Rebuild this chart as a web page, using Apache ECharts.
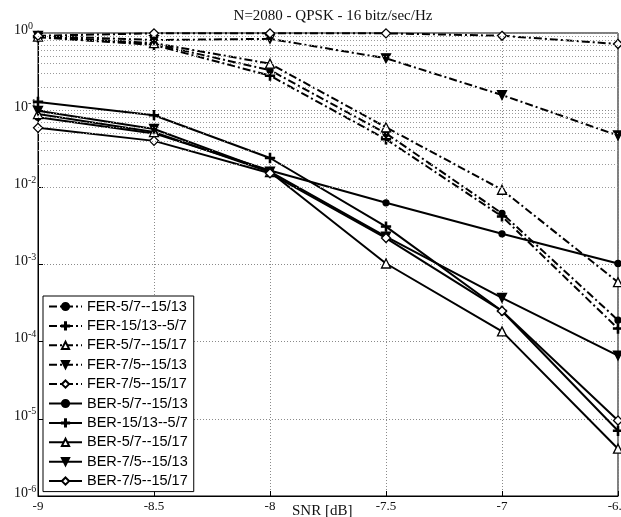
<!DOCTYPE html>
<html><head><meta charset="utf-8">
<script src="https://cdn.jsdelivr.net/npm/echarts@6/dist/echarts.min.js"></script>
<style>html,body{margin:0;padding:0;background:#fff}#c{width:621px;height:517px}</style>
</head><body><div id="c"></div>
<script>
var snr = [-9, -8.5, -8, -7.5, -7, -6.5];
var xTicks = [-9, -8.5, -8, -7.5, -7, -6.5];
var yTickExp = [0, -1, -2, -3, -4, -5, -6];

var ferC  = [0.90, 0.72, 0.33, 0.050, 0.0046, 0.00019];
var ferP  = [0.88, 0.70, 0.28, 0.042, 0.0042, 0.000148];
var ferTU = [0.90, 0.74, 0.40, 0.060, 0.0093, 0.00059];
var ferTD = [0.92, 0.81, 0.84, 0.47, 0.157, 0.047];
var ferD  = [0.92, 0.99, 0.99, 0.99, 0.92, 0.72];

var berC  = [0.081, 0.050, 0.0165, 0.0063, 0.0025, 0.00103];
var berP  = [0.128, 0.086, 0.024, 0.0031, 0.00025, 0.0000070];
var berTU = [0.089, 0.052, 0.0158, 0.00103, 0.000136, 0.0000041];
var berTD = [0.098, 0.057, 0.016, 0.0023, 0.00037, 0.000066];
var berD  = [0.059, 0.040, 0.0152, 0.0022, 0.00025, 0.0000095];

var names = ['FER-5/7--15/13','FER-15/13--5/7','FER-5/7--15/17','FER-7/5--15/13','FER-7/5--15/17',
             'BER-5/7--15/13','BER-15/13--5/7','BER-5/7--15/17','BER-7/5--15/13','BER-7/5--15/17'];
var datasets = [ferC, ferP, ferTU, ferTD, ferD, berC, berP, berTU, berTD, berD];
var xName = 'SNR [dB]';
var titleText = 'N=2080 - QPSK - 16 bitz/sec/Hz';

var PLUS = 'path://M-1,-0.14 L-0.14,-0.14 L-0.14,-1 L0.14,-1 L0.14,-0.14 L1,-0.14 L1,0.14 L0.14,0.14 L0.14,1 L-0.14,1 L-0.14,0.14 L-1,0.14 Z';
var TDOWN = 'path://M-1,-0.9 L1,-0.9 L0,0.9 Z';
var markers = [
  {symbol:'circle', size:6, fill:'#000'},
  {symbol:PLUS, size:9, fill:'#000'},
  {symbol:'triangle', size:9, fill:'#fff'},
  {symbol:TDOWN, size:9, fill:'#000'},
  {symbol:'diamond', size:9, fill:'#fff'}
];

function pairs(arr){ return snr.map(function(x,i){ return [x, arr[i]]; }); }

var series = [];
var minorLines = [];
for (var e = -6; e < 0; e++) {
  for (var m = 2; m <= 9; m++) minorLines.push({yAxis: m * Math.pow(10, e)});
}
series.push({
  name: '_grid', type: 'line', data: [], silent: true, z: 1,
  markLine: {silent: true, symbol: ['none','none'], label: {show:false},
    lineStyle: {color:'#9a9a9a', type:[1,2], width:1}, data: minorLines, animation:false}
});

names.forEach(function(n, i){
  var mk = markers[i % 5];
  var isFer = i < 5;
  series.push({
    name: n, type: 'line', data: pairs(datasets[i]), z: 3,
    symbol: mk.symbol, symbolSize: mk.size, showAllSymbol: true,
    itemStyle: {color: mk.fill, borderColor:'#000', borderWidth: 1.3},
    lineStyle: {color:'#000', width: 2, type: isFer ? [8,3,2,3] : 'solid'},
    emphasis: {disabled: true}
  });
});

var chart = echarts.init(document.getElementById('c'), null, {renderer:'canvas'});
chart.setOption({
  animation: false,
  backgroundColor: '#fff',
  title: {
    text: titleText, left: 328, textAlign: 'center', top: 4,
    textStyle: {fontFamily:'Liberation Serif', fontSize: 15, fontWeight:'normal', color:'#111'}
  },
  graphic: [{
    type: 'text', left: 292, top: 504, z: 10,
    style: {text: xName, font: '15px "Liberation Serif"', fill: '#111'}
  }],
  grid: {left: 38, right: 3, top: 33, bottom: 21, show: true, borderColor:'#000', borderWidth: 1,
    backgroundColor:'transparent', containLabel: false, outerBoundsMode: 'none'},
  legend: {
    data: names, orient: 'vertical', left: 43, top: 296, height: 200,
    backgroundColor: '#fff', borderColor: '#000', borderWidth: 1,
    padding: [3, 6, 3, 5], itemWidth: 33, itemHeight: 9, itemGap: 4.4,
    textStyle: {fontFamily: 'Liberation Sans', fontSize: 14.5, color: '#000'}
  },
  xAxis: {
    type: 'value', min: -9, max: -6.5, interval: 0.5,
    axisLine: {show: true, lineStyle: {color:'#000', width:1}},
    axisTick: {show: true, inside: true, length: 5, lineStyle:{color:'#000'}},
    axisLabel: {fontFamily:'Liberation Serif', fontSize: 13, color:'#111', margin: 4,
      formatter: function(v){ return String(v); }},
    splitLine: {show: true, lineStyle: {color:'#8a8a8a', type:[1,2], width:1}}
  },
  yAxis: {
    type: 'log', logBase: 10, min: 1e-6, max: 1, splitNumber: 6,
    axisLine: {show: true, lineStyle: {color:'#000', width:1}},
    axisTick: {show: true, inside: true, length: 5, lineStyle:{color:'#000'}},
    axisLabel: {
      align: 'left', margin: 24, color:'#111',
      formatter: function(v){
        var ex = Math.round(Math.log(v)/Math.LN10);
        return '{b|10}{e|' + ex + '}';
      },
      rich: {
        b: {fontFamily:'Liberation Serif', fontSize: 14, lineHeight: 14, padding:[2,0,8,0], color:'#111'},
        e: {fontFamily:'Liberation Serif', fontSize: 10, lineHeight: 10, padding:[0,0,14,0], color:'#111'}
      }
    },
    splitLine: {show: true, lineStyle: {color:'#8a8a8a', type:[1,2], width:1}}
  },
  series: series
});
</script></body></html>
